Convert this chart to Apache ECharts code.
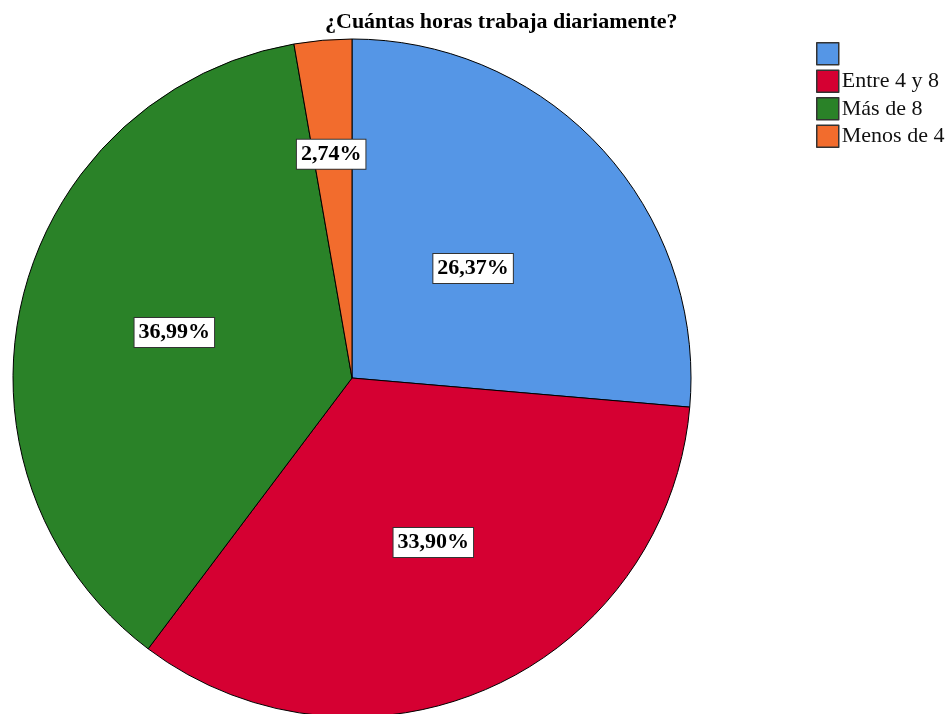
<!DOCTYPE html>
<html>
<head>
<meta charset="utf-8">
<script src="https://cdn.jsdelivr.net/npm/echarts@6/dist/echarts.min.js"></script>
<style>html,body{margin:0;padding:0;background:#fff}#c{width:951px;height:714px}</style>
</head>
<body>
<div id="c"></div>
<script>
const titleText = '¿Cuántas horas trabaja diariamente?';
const categories = [' ', 'Entre 4 y 8', 'Más de 8', 'Menos de 4'];
const percents = [26.37, 33.90, 36.99, 2.74];
const colors = ['#5596E6', '#D50032', '#2A8228', '#F26C2D'];

const chart = echarts.init(document.getElementById('c'));
const serif = '"Liberation Serif", "Times New Roman", serif';
chart.setOption({
  animation: false,
  title: {
    text: titleText,
    left: 320, top: 6,
    textStyle: { fontFamily: serif, fontWeight: 'bold', fontSize: 22, color: '#000' }
  },
  legend: {
    orient: 'vertical',
    left: 816, top: 42,
    padding: 0,
    icon: 'rect',
    itemWidth: 22, itemHeight: 22, itemGap: 4,
    data: categories,
    selectedMode: false,
    textStyle: { fontFamily: serif, fontSize: 22, lineHeight: 22, color: '#111', padding: [0, 0, 0, -2] },
    itemStyle: { borderColor: '#333', borderWidth: 1.5 }
  },
  series: [{
    type: 'pie',
    center: [352, 378],
    radius: 339,
    startAngle: 90,
    clockwise: true,
    data: categories.map((n, i) => ({ name: n, value: percents[i], itemStyle: { color: colors[i] } })),
    itemStyle: { borderColor: '#000', borderWidth: 1 },
    label: {
      position: 'inside',
      formatter: p => p.value.toFixed(2).replace('.', ',') + '%',
      fontFamily: serif, fontWeight: 'bold', fontSize: 22, color: '#000',
      backgroundColor: '#fff', borderColor: '#333', borderWidth: 1,
      padding: [4, 4, 3, 4]
    },
    labelLine: { show: false },
    labelLayout: function (params) {
      if (params.dataIndex === 0) return { dx: -6, dy: 7 };
      if (params.dataIndex === 3) return { dy: -52, dx: -6 };
      if (params.dataIndex === 1) return { dx: 11, dy: 7 };
      if (params.dataIndex === 2) return { dx: -10, dy: -5 };
      return {};
    },
    emphasis: { disabled: true }
  }]
});
</script>
</body>
</html>
